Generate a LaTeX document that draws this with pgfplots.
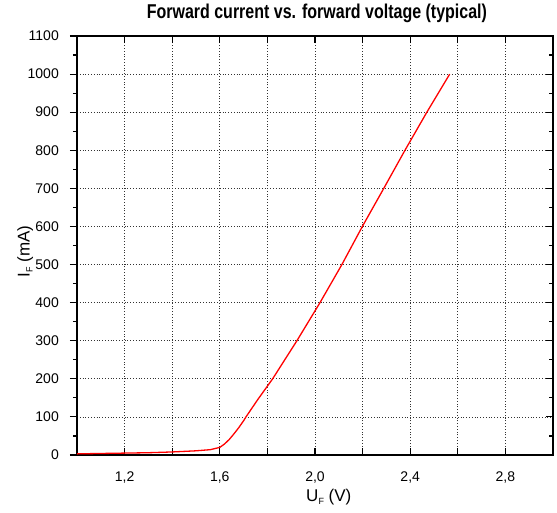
\documentclass[border=0pt]{standalone}
\usepackage{fontspec}
\setmainfont{Liberation Sans}
\usepackage{graphicx}
\usepackage{pgfplots}
\pgfplotsset{compat=1.18}

\pgfplotstableread{
U I
1.00 3
1.10 4
1.20 5
1.30 6
1.40 8
1.50 11
1.56 14
1.58 17
1.60 20
1.62 29
1.64 41
1.66 56
1.68 72
1.70 90
1.71 100
1.76 146
1.822 200
1.924 300
2.021 400
2.113 500
2.199 600
2.289 700
2.378 800
2.470 900
2.566 1000
}\ifcurve

\newcommand\sub[1]{\raisebox{-3pt}{\fontsize{9}{9}\selectfont #1}}

\begin{document}
\begin{tikzpicture}
\pgfplotsset{
  common/.style={
    width=476pt, height=419pt, scale only axis,
    xmin=1.0, xmax=3.0, ymin=0, ymax=1100,
    ytick={0,100,...,1100},
    minor ytick={50,150,...,1050},
    major tick length=7pt, minor tick length=4pt,
    axis line style={line width=1.6pt},
    every tick/.style={black, line width=1.1pt},
    every minor tick/.style={black, line width=1.1pt},
  }
}
\begin{axis}[
  common,
  xtick={1.2,1.4,1.6,1.8,2.0,2.2,2.4,2.6,2.8},
  xticklabels={{1,2},{},{1,6},{},{2,0},{},{2,4},{},{2,8}},
  xtick pos=both, ytick pos=left,
  xtick align=inside, ytick align=outside,
  grid=major,
  major grid style={black!80, line width=0.7pt, dash pattern=on 1pt off 1.8pt},
  /pgf/number format/assume math mode=true,
  /pgf/number format/1000 sep={},
  tick label style={font=\fontsize{14}{16}\selectfont, inner sep=0pt},
  xticklabel style={anchor=base, yshift=-26pt},
  yticklabel style={anchor=east, xshift=-11pt},
  title={\scalebox{0.8}[1]{\fontsize{20}{22}\selectfont\bfseries Forward current vs. forward voltage (typical)}},
  title style={at={(axis description cs:0.504,1.0286)}, anchor=base, inner sep=0pt},
  xlabel={U\sub{F} (V)},
  ylabel={I\sub{F} (mA)},
  every axis x label/.style={at={(axis description cs:0.529,-0.112)}, anchor=base,
    font=\fontsize{17}{19}\selectfont, inner sep=0pt},
  every axis y label/.style={at={(axis description cs:-0.109,0.486)}, rotate=90, anchor=center,
    font=\fontsize{17}{19}\selectfont, inner sep=0pt},
]
\addplot[red, line width=1.3pt, no marks] table[x=U, y=I] {\ifcurve};
\coordinate (ll) at (rel axis cs:0,0);
\coordinate (ur) at (rel axis cs:1,1);
\end{axis}
\begin{axis}[
  common,
  axis x line=none,
  axis y line*=right,
  y axis line style={-},
  ytick align=inside,
  yticklabels={},
]
\end{axis}
\pgfresetboundingbox
\path ([shift={(-77pt,-57pt)}]ll) rectangle ([shift={(4pt,36pt)}]ur);
\end{tikzpicture}
\end{document}
